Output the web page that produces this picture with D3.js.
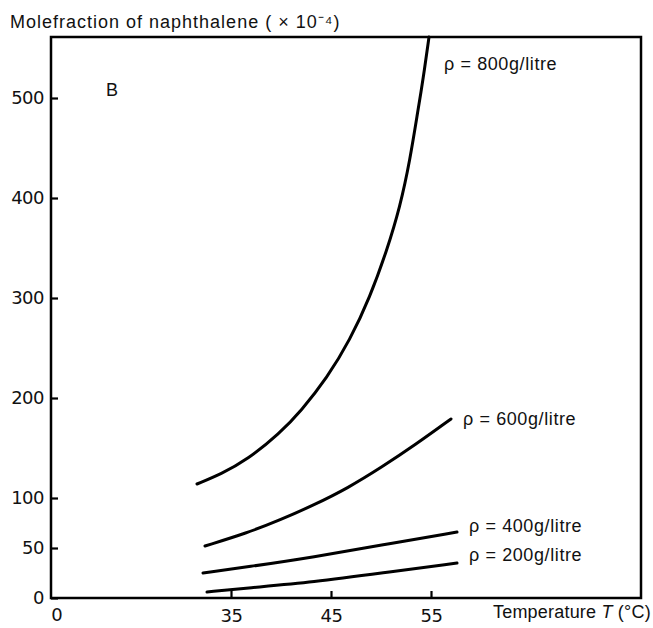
<!DOCTYPE html>
<html>
<head>
<meta charset="utf-8">
<script src="https://cdn.jsdelivr.net/npm/d3@7"></script>
<style>
  body { margin: 0; background: #fff; }
  svg { font-family: "Liberation Sans", Arial, sans-serif; fill: #111; }
  .curve { fill: none; stroke: #000; stroke-width: 3; stroke-linecap: round; }
  .tick line { stroke: #000; stroke-width: 2.2; }
</style>
</head>
<body>
<div id="chart"></div>
<script>
// temperature (C) vs molefraction (x 10^-4)
const rho800 = [[31.6, 114], [34.0, 124], [36.6, 138], [39.9, 165], [42.0, 187], [44.6, 220],
  [46.9, 258], [48.9, 301], [50.6, 348], [51.9, 391], [52.9, 438], [53.7, 488], [54.2, 518], [54.8, 561]]
const rho600 = [[32.4, 52], [36.6, 65], [39.9, 78], [43.3, 93], [46.7, 110], [50.1, 131],
  [53.4, 153], [57.0, 179]]
const rho400 = [[32.2, 25], [36.6, 31], [43.3, 41], [50.1, 53], [57.6, 66]]
const rho200 = [[32.6, 6], [36.6, 10], [43.3, 16], [50.1, 25], [57.6, 35]]
const seriesNames = ['ρ = 800g/litre', 'ρ = 600g/litre', 'ρ = 400g/litre', 'ρ = 200g/litre']
const yTicks = [0, 50, 100, 200, 300, 400, 500]
const xTicks = [35, 45, 55]

const W = 653, H = 628
const m = { left: 51, right: 641, top: 37, bottom: 598 }

const svg = d3.select('#chart').append('svg')
  .attr('width', W)
  .attr('height', H)

const x = d3.scaleLinear().domain([17, 76]).range([m.left, m.right])
const y = d3.scaleLinear().domain([0, 561]).range([m.bottom, m.top])

// frame
svg.append('rect')
  .attr('x', m.left).attr('y', m.top)
  .attr('width', m.right - m.left).attr('height', m.bottom - m.top)
  .attr('fill', 'none').attr('stroke', '#000').attr('stroke-width', 2.5)

// axes, ticks pointing inward
const yAxis = svg.append('g')
  .attr('transform', `translate(${m.left},0)`)
  .call(d3.axisLeft(y).tickValues(yTicks).tickSizeInner(-7).tickSizeOuter(0).tickPadding(7))
const xAxis = svg.append('g')
  .attr('transform', `translate(0,${m.bottom})`)
  .call(d3.axisBottom(x).tickValues(xTicks).tickSizeInner(-7).tickSizeOuter(0).tickPadding(11))
yAxis.select('.domain').remove()
xAxis.select('.domain').remove()
svg.selectAll('.tick text').attr('font-size', 18).attr('fill', '#111')
  .attr('font-family', '"DejaVu Sans", sans-serif')
  .attr('letter-spacing', -0.5)

// the odd "0" at the origin of the temperature axis
svg.append('text')
  .attr('x', m.left + 6).attr('y', 621)
  .attr('text-anchor', 'middle').attr('font-size', 18)
  .attr('font-family', '"DejaVu Sans", sans-serif')
  .text('0')

// curves
const line = d3.line()
  .x(d => x(d[0]))
  .y(d => y(d[1]))
  .curve(d3.curveBasis)
const all = [rho800, rho600, rho400, rho200]
svg.selectAll('.curve')
  .data(all)
  .enter().append('path')
  .attr('class', 'curve')
  .attr('d', line)

// labels next to curve ends, 800 sits near the top instead
const labelDy = [0, 6, 0, -2]
all.forEach((s, i) => {
  const end = s[s.length - 1]
  let lx = x(end[0]) + 12
  let ly = y(end[1]) + labelDy[i]
  if (i === 0) { lx = x(end[0]) + 15; ly = y(528) }
  svg.append('text')
    .attr('x', lx).attr('y', ly)
    .attr('font-size', 18)
    .attr('letter-spacing', 0.6)
    .text(seriesNames[i])
})

// panel letter
svg.append('text').attr('x', 106).attr('y', 96).attr('font-size', 18).text('B')

// axis titles
svg.append('text')
  .attr('x', 10).attr('y', 28)
  .attr('font-size', 18)
  .attr('letter-spacing', 1)
  .text('Molefraction of naphthalene ( × 10⁻⁴)')

const xt = svg.append('text')
  .attr('x', 493).attr('y', 618)
  .attr('font-size', 18)
  .attr('letter-spacing', 0.2)
xt.append('tspan').text('Temperature ')
xt.append('tspan').attr('font-style', 'italic').text('T')
xt.append('tspan').text(' (°C)')
</script>
</body>
</html>
